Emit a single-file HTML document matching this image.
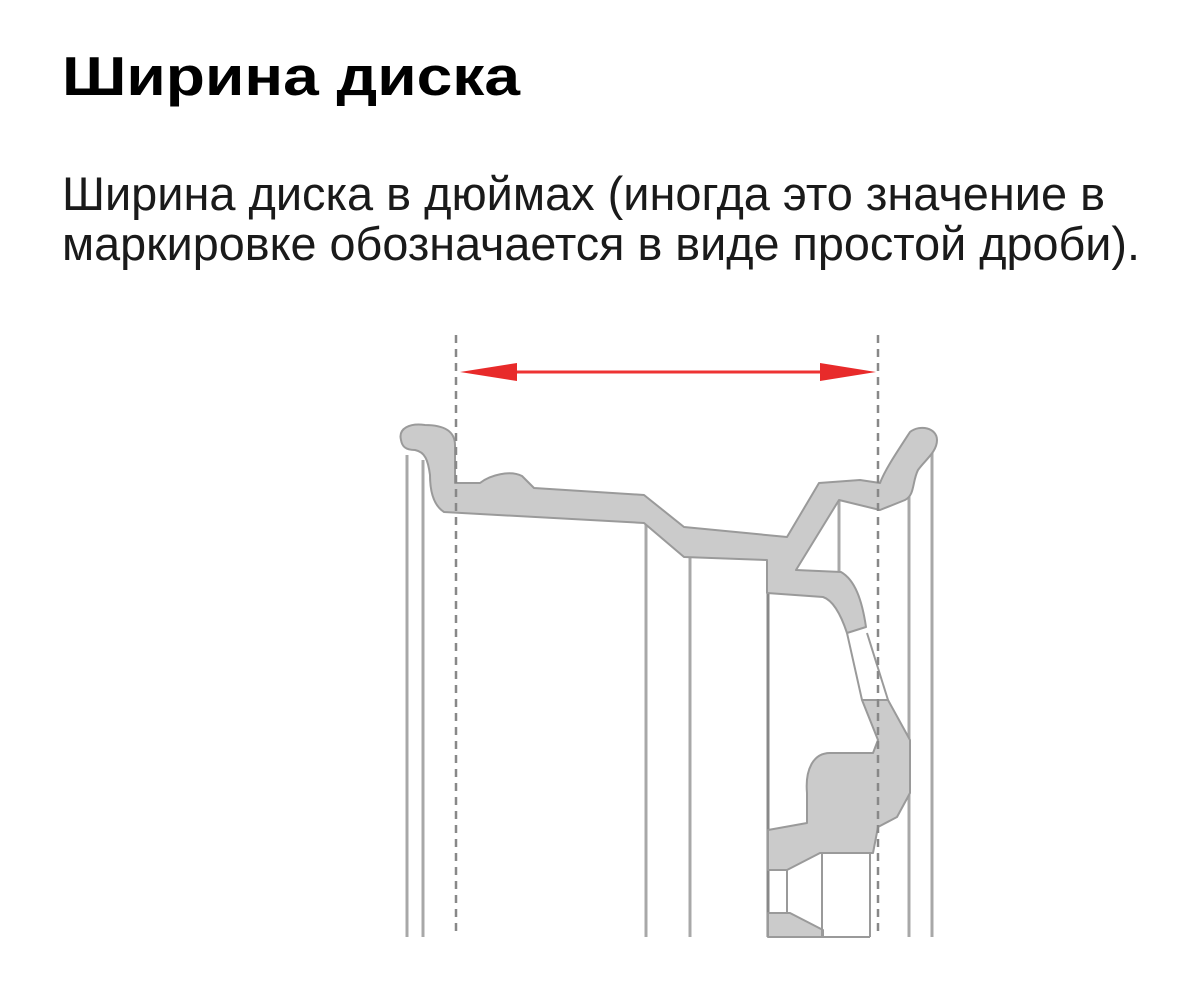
<!DOCTYPE html>
<html><head><meta charset="utf-8"><style>
html,body{margin:0;padding:0;background:#fff;}
svg{display:block;}
</style></head><body>
<svg width="1200" height="982" viewBox="0 0 1200 982" xmlns="http://www.w3.org/2000/svg">
<rect width="1200" height="982" fill="#fff"/>
<text x="62" y="95" font-family="Liberation Sans, sans-serif" font-weight="bold" font-size="55" fill="#000" textLength="458" lengthAdjust="spacingAndGlyphs">Ширина диска</text>
<text x="62" y="210" font-family="Liberation Sans, sans-serif" font-size="47" fill="#1a1a1a" textLength="1043" lengthAdjust="spacingAndGlyphs">Ширина диска в дюймах (иногда это значение в</text>
<text x="62" y="260" font-family="Liberation Sans, sans-serif" font-size="47" fill="#1a1a1a" textLength="1078" lengthAdjust="spacingAndGlyphs">маркировке обозначается в виде простой дроби).</text>

<g stroke="#a8a8a8" stroke-width="3" fill="none">
<line x1="407" y1="455" x2="407" y2="937"/>
<line x1="423" y1="460" x2="423" y2="937"/>
<line x1="646" y1="523" x2="646" y2="937"/>
<line x1="690" y1="557" x2="690" y2="937"/>
<line x1="909" y1="495" x2="909" y2="937"/>
<line x1="932" y1="440" x2="932" y2="937"/>
<line x1="839" y1="500" x2="839" y2="573"/>
</g>
<line x1="768" y1="560" x2="768" y2="937" stroke="#888" stroke-width="3"/>

<g fill="#cbcbcb" stroke="#9a9a9a" stroke-width="2" stroke-linejoin="round">
<!-- left flange + rim bed + drop center + spoke -->
<path d="M401,440 C398,428 410,423 425,425 C445,425 455,432 455,445 L455,483 L480,483 C490,475 510,470 522,476 L534,488 L644,495 L684,527 L787,537 L819,483 L860,480 L880,483 C885,470 895,455 910,432 C920,424 937,428 937,440 C937,452 925,460 918,470 C912,482 915,495 905,500 L880,510 L839,500 L796,570 L841,572 C855,580 862,600 866,627 L847,633 C840,612 832,600 823,597 L767,593 L767,560 L684,557 L644,523 L444,512 C433,505 430,490 430,475 C428,460 425,452 415,450 C405,450 402,446 401,440 Z"/>
<!-- lower spoke + hub -->
<path d="M862,700 L888,700 L910,740 L910,793 L897,817 L878,827 L873,853 L820,853 L787,870 L768,870 L768,830 L807,823 L807,793 C805,770 813,753 830,753 L873,753 L878,740 Z"/>
<path d="M768,913 L790,913 L823,930 L823,937 L768,937 Z"/>
</g>
<g stroke="#9a9a9a" stroke-width="2" fill="none">
<path d="M847,633 L862,700"/>
<path d="M867,633 L888,700"/>
<line x1="787" y1="870" x2="787" y2="913"/>
<line x1="822" y1="853" x2="822" y2="937"/>
<line x1="870" y1="853" x2="870" y2="937"/>
<line x1="768" y1="937" x2="870" y2="937"/>
</g>

<g stroke="#888" stroke-width="2.5" stroke-dasharray="8,6">
<line x1="456" y1="335" x2="456" y2="935"/>
<line x1="878" y1="335" x2="878" y2="935"/>
</g>

<line x1="500" y1="372" x2="835" y2="372" stroke="#e33" stroke-width="3"/>
<path d="M460,372 L517,363 L517,381 Z" fill="#e82a2a"/>
<path d="M876,372 L820,363 L820,381 Z" fill="#e82a2a"/>
</svg>
</body></html>
